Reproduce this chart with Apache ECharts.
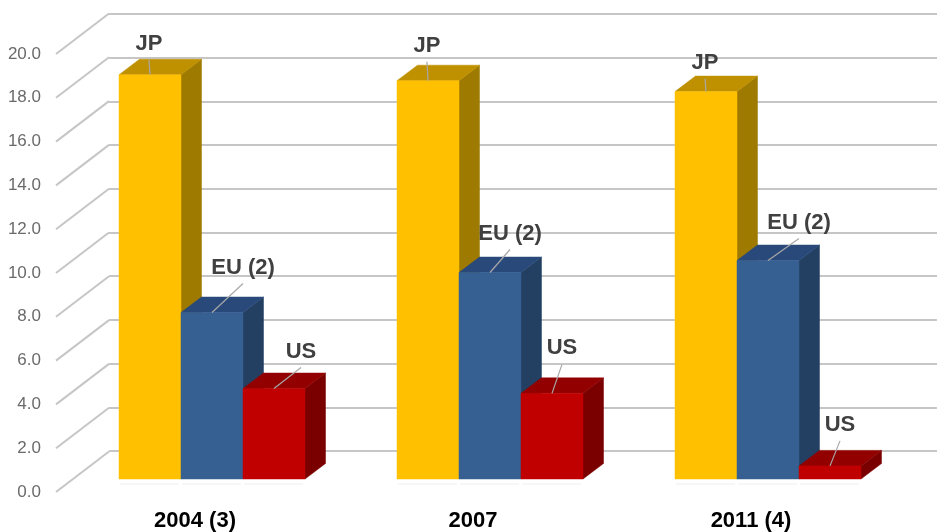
<!DOCTYPE html>
<html><head><meta charset="utf-8">
<style>html,body{margin:0;padding:0;background:#fff}#c{width:937px;height:532px}</style>
<script src="https://cdn.jsdelivr.net/npm/echarts@6/dist/echarts.min.js"></script>
</head><body><div id="c"></div>
<script>
const categories = ['2004 (3)', '2007', '2011 (4)'];
const jpValues = [18.5, 18.23, 17.73];
const euValues = [7.62, 9.45, 10.0];
const usValues = [4.14, 3.92, 0.6];
const seriesNames = ['JP', 'EU (2)', 'US'];
const tickValues = [0,2,4,6,8,10,12,14,16,18,20];

const FONT = '"Liberation Sans", Arial, sans-serif';
const barDepth = [20.5, -15.5];
const wallDepth = [53, -40.5];
const faces = [
  {front:'#FFC000', side:'#9E7A00', top:'#BF9000'},
  {front:'#376092', side:'#233F61', top:'#29497A'},
  {front:'#C00000', side:'#7A0000', top:'#920000'}
];
// label centre relative to the top-centre of each bar's front face
const labelOffsets = [
  [[-1,-31],[-1,-35],[-1,-29]],
  [[31,-45],[20,-39],[31,-38]],
  [[27,-37],[10,-45],[10,-41]]
];
const seriesValues = [jpValues, euValues, usValues];
const barShare = 62 / 278;

function poly(points, fill) {
  return {type:'polygon', shape:{points}, style:{fill, stroke:fill, lineWidth:0.5}};
}
function barRenderer(s) {
  return function (params, api) {
    const i = api.value(0), v = api.value(1);
    const band = api.size([1,0])[0], w = band * barShare;
    const base = api.coord([i,0]), top = api.coord([i,v]);
    const cx = base[0] + (s-1)*w, l = cx - w/2, r = cx + w/2;
    const [dx,dy] = barDepth, c = faces[s];
    return {type:'group', children:[
      {type:'line', shape:{x1:l+1,y1:base[1]+5,x2:r-2,y2:base[1]+5}, style:{stroke:'#eeeeee',lineWidth:1}},
      poly([[r,top[1]],[r+dx,top[1]+dy],[r+dx,base[1]+dy],[r,base[1]]], c.side),
      poly([[l,top[1]],[r,top[1]],[r+dx,top[1]+dy],[l+dx,top[1]+dy]], c.top),
      poly([[l,top[1]],[r,top[1]],[r,base[1]],[l,base[1]]], c.front)
    ]};
  };
}
function labelRenderer(s) {
  return function (params, api) {
    const i = api.value(0), v = api.value(1);
    const band = api.size([1,0])[0], w = band * barShare;
    const top = api.coord([i,v]);
    const cx = top[0] + (s-1)*w;
    const [ox,oy] = labelOffsets[s][i];
    return {type:'group', children:[
      {type:'line', shape:{x1:cx,y1:top[1],x2:cx+ox,y2:top[1]+oy+16}, style:{stroke:'#a8a8a8',lineWidth:1.2}},
      {type:'text', x:cx+ox, y:top[1]+oy, style:{text:seriesNames[s], fill:'#404040', font:'bold 22px '+FONT, align:'center', verticalAlign:'middle'}}
    ]};
  };
}
function diagonalRenderer(params, api) {
  const v = api.value(1);
  const band = api.size([1,0])[0];
  const p = api.coord([0,v]);
  const x = p[0] - band/2;
  return {type:'line', shape:{x1:x,y1:p[1],x2:x+wallDepth[0],y2:p[1]+wallDepth[1]}, style:{stroke:'#c6c6c6',lineWidth:2}};
}
const rows = a => a.map((v,i)=>[i,v]);
const hiddenX = (g)=>({type:'category',gridIndex:g,data:categories,boundaryGap:true,axisLine:{show:false},axisTick:{show:false},axisLabel:{show:false},splitLine:{show:false}});
const hiddenY = (g)=>({type:'value',gridIndex:g,min:0,max:20,interval:2,axisLine:{show:false},axisTick:{show:false},axisLabel:{show:false},splitLine:{show:false}});

const series = [];
series.push({type:'custom',name:'diagonals',xAxisIndex:0,yAxisIndex:0,silent:true,clip:false,z:1,
  renderItem:diagonalRenderer,encode:{x:0,y:1},data:tickValues.map(v=>[0,v])});
seriesValues.forEach((vals,s)=>series.push({type:'custom',name:seriesNames[s],xAxisIndex:1,yAxisIndex:1,clip:false,silent:true,z:3+s,
  renderItem:barRenderer(s),encode:{x:0,y:1},data:rows(vals)}));
seriesValues.forEach((vals,s)=>series.push({type:'custom',name:seriesNames[s]+' label',xAxisIndex:1,yAxisIndex:1,clip:false,silent:true,z:10,
  renderItem:labelRenderer(s),encode:{x:0,y:1},data:rows(vals)}));

const chart = echarts.init(document.getElementById('c'), null, {renderer:'canvas'});
chart.setOption({
  animation:false,
  backgroundColor:'#ffffff',
  grid:[
    {left:56,top:54,width:834,height:438},
    {left:73,top:42,width:834,height:437},
    {left:109,top:14,width:834,height:437}
  ],
  xAxis:[
    {type:'category',gridIndex:0,data:categories,boundaryGap:true,axisLine:{show:false},axisTick:{show:false},splitLine:{show:false},
      axisLabel:{show:true,margin:18,color:'#000000',fontFamily:FONT,fontWeight:'bold',fontSize:22}},
    hiddenX(1),hiddenX(2)
  ],
  yAxis:[
    {type:'value',gridIndex:0,min:0,max:20,interval:2,axisLine:{show:false},axisTick:{show:false},splitLine:{show:false},
      axisLabel:{show:true,margin:15,color:'#6a6a6a',fontFamily:FONT,fontSize:17,padding:[0,0,4,0],formatter:v=>v.toFixed(1)}},
    hiddenY(1),
    {type:'value',gridIndex:2,min:0,max:20,interval:2,axisLine:{show:false},axisTick:{show:false},axisLabel:{show:false},
      splitLine:{show:true,lineStyle:{color:'#c6c6c6',width:2}}}
  ],
  series
});
</script></body></html>
